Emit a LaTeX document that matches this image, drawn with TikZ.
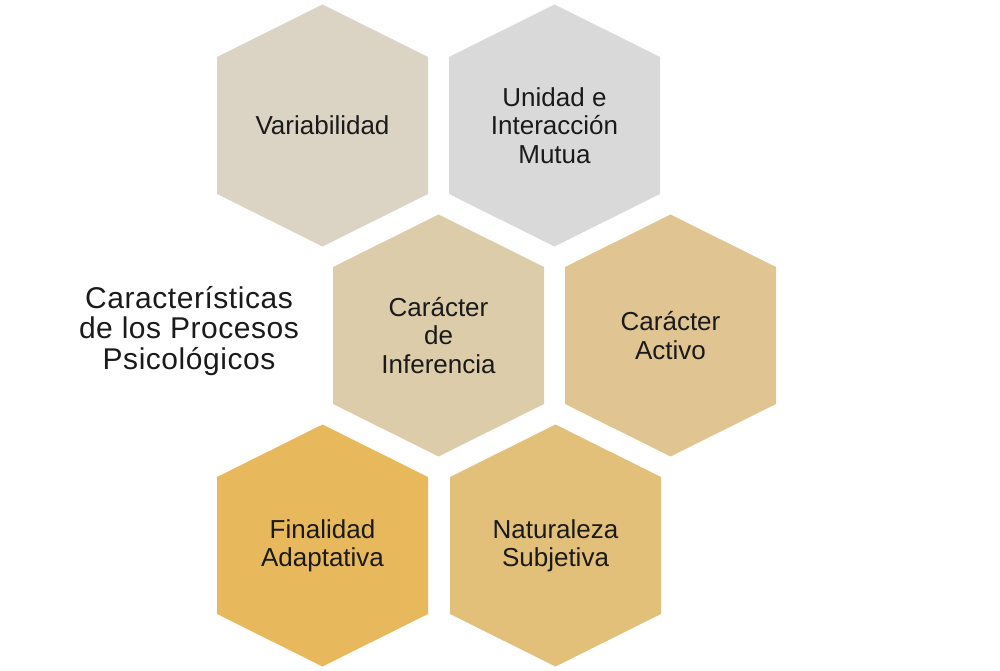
\documentclass[tikz,border=0pt]{standalone}
\usepackage{fontspec}
\setmainfont{Liberation Sans}
\newfontfamily\titlefont[LetterSpace=1.8]{Liberation Sans}
\definecolor{hexsand}{RGB}{219,211,196}
\definecolor{hexgray}{RGB}{217,217,217}
\definecolor{hexwheat}{RGB}{221,204,170}
\definecolor{hextan}{RGB}{224,196,145}
\definecolor{hexgold}{RGB}{232,185,92}
\definecolor{hexhoney}{RGB}{227,192,122}
\definecolor{inkgray}{RGB}{26,26,26}
\tikzset{
  hexlabel/.style={align=center, text=inkgray,
    font=\fontsize{26}{28.3}\selectfont, inner sep=0pt},
  titlelabel/.style={align=center, text=inkgray,
    font=\titlefont\fontsize{30}{30.5}\selectfont, inner sep=0pt}
}
\begin{document}
\begin{tikzpicture}[x=1pt, y=-1pt]
  \useasboundingbox (0,0) rectangle (1000,671);
  % honeycomb
  \foreach \name/\cx/\cy/\col/\txt in {
      var/322.5/125.5/hexsand/{Variabilidad},
      uni/554.5/125.5/hexgray/{Unidad e\\Interacción\\Mutua},
      inf/438.5/335.5/hexwheat/{Carácter\\de\\Inferencia},
      act/670.5/335.5/hextan/{Carácter\\Activo},
      fin/322.5/545.5/hexgold/{Finalidad\\Adaptativa},
      nat/555.5/545.5/hexhoney/{Naturaleza\\Subjetiva}} {
    \fill[\col] (\cx-105.5,\cy-68.5) -- (\cx,\cy-121) -- (\cx+105.5,\cy-68.5)
      -- (\cx+105.5,\cy+68.5) -- (\cx,\cy+121) -- (\cx-105.5,\cy+68.5) -- cycle;
    \node[hexlabel] (\name) at (\cx,\cy) {\txt};
  }
  \node[titlelabel] (title) at (189,331)
    {Características\\de los Procesos\\Psicológicos};
\end{tikzpicture}
\end{document}
